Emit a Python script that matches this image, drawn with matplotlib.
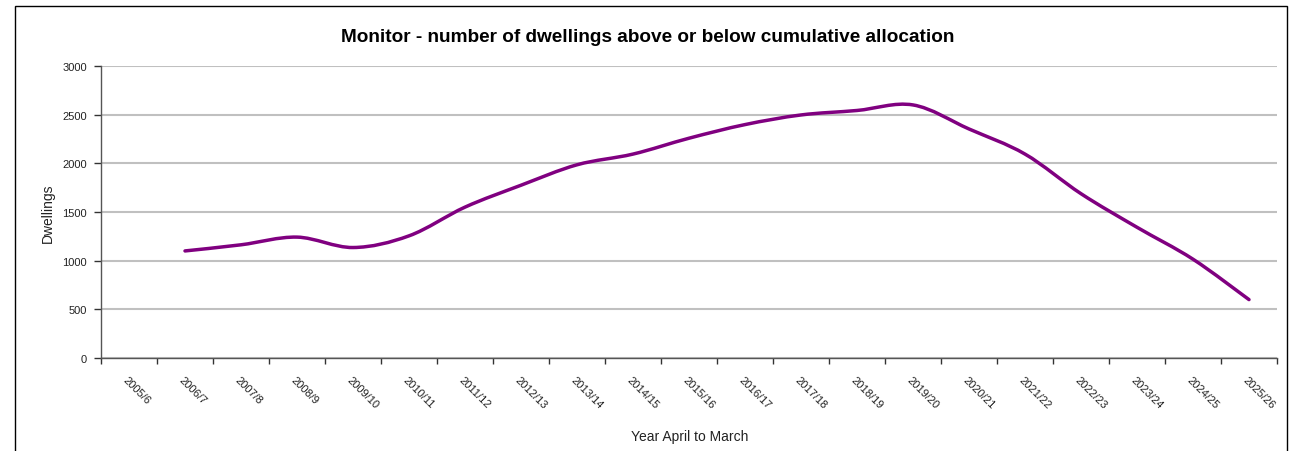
import numpy as np
import matplotlib
matplotlib.use("Agg")
import matplotlib.pyplot as plt
import matplotlib.transforms as mtransforms
from matplotlib.path import Path
from matplotlib.patches import PathPatch, Rectangle

plt.rcParams['font.family'] = ['Liberation Sans', 'DejaVu Sans']

years = ["2005/6", "2006/7", "2007/8", "2008/9", "2009/10", "2010/11", "2011/12",
         "2012/13", "2013/14", "2014/15", "2015/16", "2016/17", "2017/18", "2018/19",
         "2019/20", "2020/21", "2021/22", "2022/23", "2023/24", "2024/25", "2025/26"]
# No figure for 2005/6
dwellings = [None, 1100, 1163, 1242, 1135, 1255, 1550, 1775, 1985, 2095, 2258, 2398,
             2497, 2543, 2600, 2353, 2095, 1688, 1343, 1015, 600]

title = "Monitor - number of dwellings above or below cumulative allocation"
y_ticks = [0, 500, 1000, 1500, 2000, 2500, 3000]


def smooth_path(xs, ys):
    """Bezier curve through the points, spreadsheet-style smoothing."""
    pts = np.column_stack([xs, ys]).astype(float)
    n = len(pts)
    verts = [pts[0]]
    codes = [Path.MOVETO]
    for i in range(n - 1):
        p0 = pts[i - 1] if i > 0 else pts[i]
        p1 = pts[i]
        p2 = pts[i + 1]
        p3 = pts[i + 2] if i + 2 < n else pts[i + 1]
        c1 = p1 + (p2 - p0) / 6.0
        c2 = p2 - (p3 - p1) / 6.0
        verts += [c1, c2, p2]
        codes += [Path.CURVE4] * 3
    return Path(verts, codes)


fig = plt.figure(figsize=(12.9, 4.52), dpi=100)
fig.patch.set_facecolor("white")

# outer chart frame
fig.add_artist(Rectangle((15 / 1290, -0.05), (1287 - 15) / 1290, 1.05 - 7 / 452,
                         transform=fig.transFigure, fill=False,
                         edgecolor="black", linewidth=1.0))

ax = fig.add_axes([101 / 1290, 1 - 359 / 452, (1277 - 101) / 1290, (359 - 67) / 452])

idx = [i for i, v in enumerate(dwellings) if v is not None]
vals = [dwellings[i] for i in idx]
ax.add_patch(PathPatch(smooth_path(idx, vals), facecolor="none",
                       edgecolor="#800080", linewidth=2.5, capstyle="round",
                       joinstyle="round", zorder=3))

ax.set_xlim(-0.5, len(years) - 0.5)
ax.set_ylim(0, 3000)
ax.set_yticks(y_ticks)
ax.set_yticklabels([str(t) for t in y_ticks], fontsize=8, color="#222222")
ax.grid(axis="y", color="#c0c0c0", linewidth=1.5)
ax.set_axisbelow(True)

ax.set_xticks(range(len(years)))
ax.set_xticklabels(years, rotation=-45, ha="left", va="center",
                   rotation_mode="anchor", fontsize=8, color="#222222")
ax.tick_params(axis="x", which="major", length=0, pad=14)
shift = mtransforms.ScaledTranslation(-4 / 100, 0, fig.dpi_scale_trans)
for lbl in ax.get_xticklabels():
    lbl.set_transform(lbl.get_transform() + shift)
ax.set_xticks(np.arange(-0.5, len(years), 1.0), minor=True)
ax.tick_params(axis="x", which="minor", length=4, width=1, color="#333333", direction="out")
ax.tick_params(axis="y", length=5, width=1, color="#333333", pad=5)

for s in ["top", "right"]:
    ax.spines[s].set_visible(False)
for s in ["left", "bottom"]:
    ax.spines[s].set_color("#555555")
    ax.spines[s].set_linewidth(1.0)

ax.set_ylabel("Dwellings", fontsize=10, color="#222222")
ax.yaxis.set_label_coords(-(101 - 55) / 1176, 0.5)
ax.set_xlabel("Year April to March", fontsize=10, color="#222222")
ax.xaxis.set_label_coords((690 - 101) / 1176, -(430 - 359) / 292)

fig.text(648 / 1290, 1 - 38 / 452, title, ha="center", va="center",
         fontsize=13.7, fontweight="bold", color="black")

fig.savefig("out.png", dpi=100, facecolor="white")
